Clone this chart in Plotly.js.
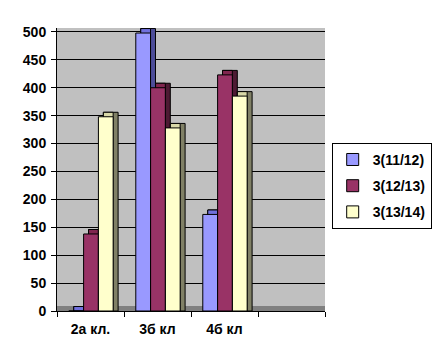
<!DOCTYPE html>
<html><head><meta charset="utf-8">
<script src="https://cdn.plot.ly/plotly-3.0.1.min.js"></script>
<style>html,body{margin:0;padding:0;background:#fff}</style>
</head><body>
<div id="chart" style="width:444px;height:363px"></div>
<script>
const categories = ['2а кл.', '3б кл', '4б кл', ' '];
const seriesNames = ['3(11/12)', '3(12/13)', '3(13/14)'];
const s1 = [0, 498, 173, null];
const s2 = [138, 400, 423, null];
const s3 = [348, 328, 385, null];
const seriesValues = [s1, s2, s3];

const frontColors = ['#9999FF', '#993366', '#FFFFCC'];
const topColors = ['#7070DD', '#80264F', '#D8D8A8'];
const sideColors = ['#4D4D99', '#4D1A33', '#808066'];
const barW = 0.22, offs = [-0.324, -0.103, 0.118], dx = 0.074, dy = 8;

const traces = [];
seriesValues.forEach((vals, i) => {
  traces.push({
    type: 'bar', x: categories, y: vals.map(v => v === null ? null : v + dy), base: 0,
    width: barW, offset: offs[i] + dx, showlegend: false, hoverinfo: 'skip',
    marker: {color: sideColors[i], line: {color: '#000', width: 1}}
  });
  traces.push({
    type: 'bar', x: categories, y: vals.map(v => v === null ? null : v + dy), base: 0,
    width: barW - dx, offset: offs[i] + dx, showlegend: false, hoverinfo: 'skip',
    marker: {color: topColors[i], line: {color: '#000', width: 1}}
  });
});
seriesValues.forEach((vals, i) => {
  traces.push({
    type: 'bar', x: categories, y: vals, name: seriesNames[i], legendgroup: 'g' + i,
    width: barW, offset: offs[i],
    marker: {color: frontColors[i], line: {color: '#000', width: 1}}
  });
});

const font = {family: 'Arial, "Liberation Sans", sans-serif', size: 14, color: '#000', weight: 'bold'};
const layout = {
  width: 444, height: 363,
  margin: {l: 57, r: 112, t: 28, b: 52},
  paper_bgcolor: '#fff', plot_bgcolor: '#C0C0C0',
  barmode: 'overlay', font: font,
  xaxis: {
    type: 'category', showgrid: false, showline: true, linecolor: '#000', linewidth: 1,
    ticks: 'outside', tickson: 'boundaries', ticklen: 5, tickcolor: '#000',
    tickfont: font, range: [-0.5, 3.5], fixedrange: true, ticklabelstandoff: 5
  },
  yaxis: {
    range: [0, 507], tickvals: [0,50,100,150,200,250,300,350,400,450,500],
    showgrid: true, gridcolor: '#000', gridwidth: 1, zeroline: false,
    showline: true, linecolor: '#000', linewidth: 1, ticks: 'outside', ticklen: 5,
    tickcolor: '#000', tickfont: font, ticklabelstandoff: 2
  },
  shapes: [{type: 'rect', xref: 'paper', yref: 'y', x0: 0, x1: 1, y0: 0, y1: 9,
    fillcolor: '#808080', line: {width: 0}, layer: 'below'}],
  legend: {
    x: 1.025, y: 0.594, xanchor: 'left', yanchor: 'top',
    bgcolor: '#fff', bordercolor: '#000', borderwidth: 1,
    font: font, tracegroupgap: 5, itemwidth: 30
  },
  showlegend: true
};
Plotly.newPlot('chart', traces, layout, {displayModeBar: false, staticPlot: true});
</script>
</body></html>
